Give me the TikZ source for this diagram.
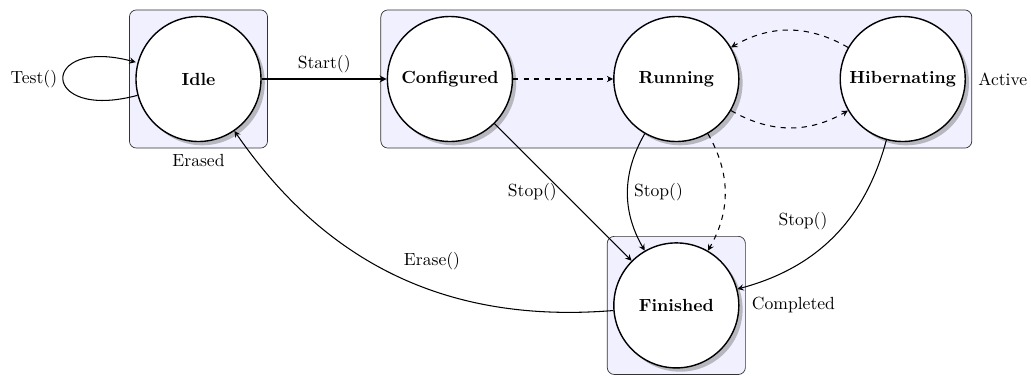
\documentclass[tikz,border=0pt]{standalone}
\usetikzlibrary{positioning,fit,shadows,backgrounds}

\tikzset{
    state/.style={circle, draw, thick, fill=white, drop shadow,
        minimum size=2.5cm, font=\bfseries},
    group/.style={draw=black!80, rounded corners, fill=blue!6},
    >=stealth
}

\begin{document}
\begin{tikzpicture}[semithick]
    \useasboundingbox (-3.97,1.58) rectangle (16.65,-5.92);
    % States
    \node[state] (idle) at (0,0) {Idle};
    \node[state, right=2.5cm of idle] (configured) {Configured};
    \node[state, right=2cm of configured] (running) {Running};
    \node[state, right=2cm of running] (hibernating) {Hibernating};
    \node[state, below=2cm of running] (finished) {Finished};
    % Groups behind the states
    \begin{scope}[on background layer]
        \node[group, fit=(idle), label=below:Erased] (erased) {};
        \node[group, fit=(configured)(hibernating), label=right:Active] (active) {};
        \node[group, fit=(finished), label=right:Completed] (completed) {};
    \end{scope}
    % Transitions
    \path[->] (idle) edge[loop left] node[left] {Test()} ();
    \draw[->, thick] (idle) -- node[above] {Start()} (configured);
    \draw[->, dashed] (configured) -- (running);
    \draw[->, dashed] (running) to[bend right] (hibernating);
    \draw[->, dashed] (hibernating) to[bend right] (running);
    \draw[->, dashed] (running) to[bend left] (finished);
    \draw[->] (configured) -- node[left] {Stop()} (finished);
    \draw[->] (running) to[bend right] node[right] {Stop()} (finished);
    \draw[->] (hibernating) to[bend left] node[above left] {Stop()} (finished);
    \draw[->] (finished) to[bend left] node[above right] {Erase()} (idle);
\end{tikzpicture}
\end{document}
